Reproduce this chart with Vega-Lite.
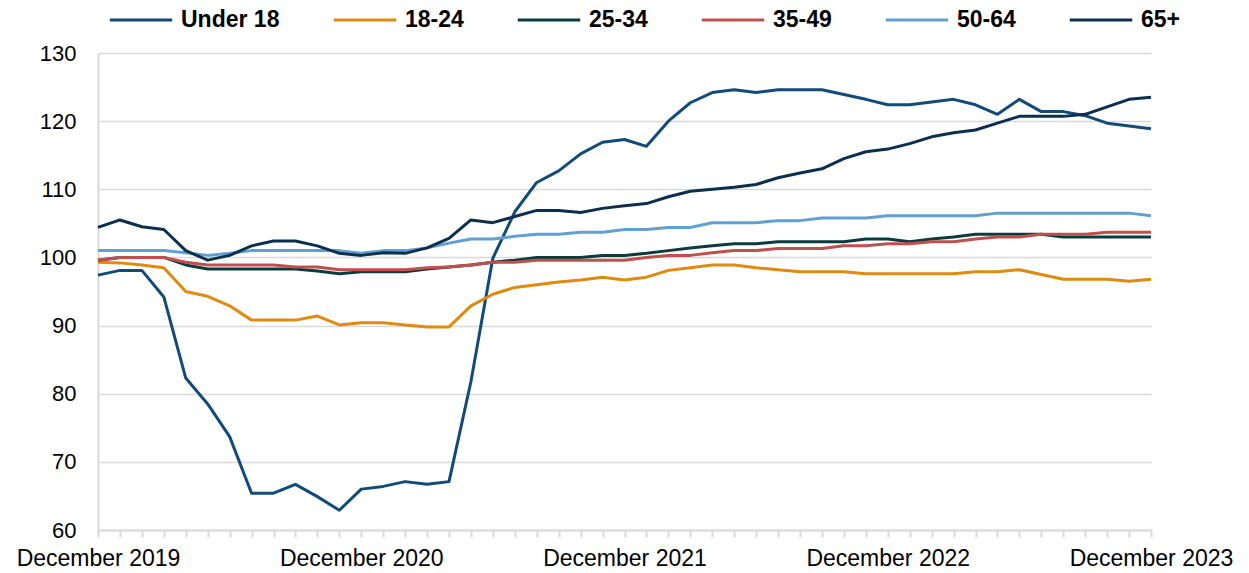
{
  "$schema": "https://vega.github.io/schema/vega-lite/v6.json",
  "width": 1053,
  "height": 477,
  "autosize": {"type": "none"},
  "padding": {"left": 98, "top": 53, "right": 98, "bottom": 43},
  "background": "white",
  "config": {
    "view": {"stroke": null},
    "font": "Liberation Sans"
  },
  "data": {
    "values": [
      {"month": "December 2019", "Under 18": 97.4, "18-24": 99.3, "25-34": 99.6, "35-49": 99.6, "50-64": 101.0, "65+": 104.4},
      {"month": "January 2020", "Under 18": 98.1, "18-24": 99.2, "25-34": 100.0, "35-49": 100.0, "50-64": 101.0, "65+": 105.5},
      {"month": "February 2020", "Under 18": 98.1, "18-24": 98.9, "25-34": 100.0, "35-49": 100.0, "50-64": 101.0, "65+": 104.5},
      {"month": "March 2020", "Under 18": 94.2, "18-24": 98.5, "25-34": 100.0, "35-49": 100.0, "50-64": 101.0, "65+": 104.1},
      {"month": "April 2020", "Under 18": 82.3, "18-24": 95.0, "25-34": 98.9, "35-49": 99.3, "50-64": 100.7, "65+": 101.0},
      {"month": "May 2020", "Under 18": 78.5, "18-24": 94.3, "25-34": 98.3, "35-49": 98.9, "50-64": 100.3, "65+": 99.6},
      {"month": "June 2020", "Under 18": 73.7, "18-24": 92.9, "25-34": 98.3, "35-49": 98.9, "50-64": 100.6, "65+": 100.3},
      {"month": "July 2020", "Under 18": 65.4, "18-24": 90.8, "25-34": 98.3, "35-49": 98.9, "50-64": 101.0, "65+": 101.7},
      {"month": "August 2020", "Under 18": 65.4, "18-24": 90.8, "25-34": 98.3, "35-49": 98.9, "50-64": 101.0, "65+": 102.4},
      {"month": "September 2020", "Under 18": 66.7, "18-24": 90.8, "25-34": 98.3, "35-49": 98.6, "50-64": 101.0, "65+": 102.4},
      {"month": "October 2020", "Under 18": 64.9, "18-24": 91.4, "25-34": 98.0, "35-49": 98.6, "50-64": 101.0, "65+": 101.7},
      {"month": "November 2020", "Under 18": 62.9, "18-24": 90.1, "25-34": 97.6, "35-49": 98.2, "50-64": 101.0, "65+": 100.6},
      {"month": "December 2020", "Under 18": 66.0, "18-24": 90.4, "25-34": 97.9, "35-49": 98.2, "50-64": 100.6, "65+": 100.3},
      {"month": "January 2021", "Under 18": 66.4, "18-24": 90.4, "25-34": 97.9, "35-49": 98.2, "50-64": 101.0, "65+": 100.7},
      {"month": "February 2021", "Under 18": 67.1, "18-24": 90.1, "25-34": 97.9, "35-49": 98.2, "50-64": 101.0, "65+": 100.6},
      {"month": "March 2021", "Under 18": 66.7, "18-24": 89.8, "25-34": 98.3, "35-49": 98.5, "50-64": 101.4, "65+": 101.4},
      {"month": "April 2021", "Under 18": 67.1, "18-24": 89.8, "25-34": 98.6, "35-49": 98.6, "50-64": 102.1, "65+": 102.8},
      {"month": "May 2021", "Under 18": 81.8, "18-24": 92.9, "25-34": 98.9, "35-49": 98.9, "50-64": 102.7, "65+": 105.5},
      {"month": "June 2021", "Under 18": 99.9, "18-24": 94.6, "25-34": 99.3, "35-49": 99.3, "50-64": 102.7, "65+": 105.1},
      {"month": "July 2021", "Under 18": 106.7, "18-24": 95.6, "25-34": 99.6, "35-49": 99.3, "50-64": 103.1, "65+": 106.0},
      {"month": "August 2021", "Under 18": 111.0, "18-24": 96.0, "25-34": 100.0, "35-49": 99.6, "50-64": 103.4, "65+": 106.9},
      {"month": "September 2021", "Under 18": 112.7, "18-24": 96.4, "25-34": 100.0, "35-49": 99.6, "50-64": 103.4, "65+": 106.9},
      {"month": "October 2021", "Under 18": 115.2, "18-24": 96.7, "25-34": 100.0, "35-49": 99.6, "50-64": 103.7, "65+": 106.6},
      {"month": "November 2021", "Under 18": 116.9, "18-24": 97.1, "25-34": 100.3, "35-49": 99.6, "50-64": 103.7, "65+": 107.2},
      {"month": "December 2021", "Under 18": 117.3, "18-24": 96.7, "25-34": 100.3, "35-49": 99.6, "50-64": 104.1, "65+": 107.6},
      {"month": "January 2022", "Under 18": 116.3, "18-24": 97.1, "25-34": 100.6, "35-49": 100.0, "50-64": 104.1, "65+": 107.9},
      {"month": "February 2022", "Under 18": 120.0, "18-24": 98.1, "25-34": 101.0, "35-49": 100.3, "50-64": 104.4, "65+": 108.9},
      {"month": "March 2022", "Under 18": 122.7, "18-24": 98.5, "25-34": 101.4, "35-49": 100.3, "50-64": 104.4, "65+": 109.7},
      {"month": "April 2022", "Under 18": 124.2, "18-24": 98.9, "25-34": 101.7, "35-49": 100.7, "50-64": 105.1, "65+": 110.0},
      {"month": "May 2022", "Under 18": 124.6, "18-24": 98.9, "25-34": 102.0, "35-49": 101.0, "50-64": 105.1, "65+": 110.3},
      {"month": "June 2022", "Under 18": 124.2, "18-24": 98.5, "25-34": 102.0, "35-49": 101.0, "50-64": 105.1, "65+": 110.7},
      {"month": "July 2022", "Under 18": 124.6, "18-24": 98.2, "25-34": 102.3, "35-49": 101.3, "50-64": 105.4, "65+": 111.7},
      {"month": "August 2022", "Under 18": 124.6, "18-24": 97.9, "25-34": 102.3, "35-49": 101.3, "50-64": 105.4, "65+": 112.4},
      {"month": "September 2022", "Under 18": 124.6, "18-24": 97.9, "25-34": 102.3, "35-49": 101.3, "50-64": 105.8, "65+": 113.0},
      {"month": "October 2022", "Under 18": 123.9, "18-24": 97.9, "25-34": 102.3, "35-49": 101.7, "50-64": 105.8, "65+": 114.5},
      {"month": "November 2022", "Under 18": 123.2, "18-24": 97.6, "25-34": 102.7, "35-49": 101.7, "50-64": 105.8, "65+": 115.5},
      {"month": "December 2022", "Under 18": 122.4, "18-24": 97.6, "25-34": 102.7, "35-49": 102.0, "50-64": 106.1, "65+": 115.9},
      {"month": "January 2023", "Under 18": 122.4, "18-24": 97.6, "25-34": 102.3, "35-49": 102.0, "50-64": 106.1, "65+": 116.7},
      {"month": "February 2023", "Under 18": 122.8, "18-24": 97.6, "25-34": 102.7, "35-49": 102.3, "50-64": 106.1, "65+": 117.7},
      {"month": "March 2023", "Under 18": 123.2, "18-24": 97.6, "25-34": 103.0, "35-49": 102.3, "50-64": 106.1, "65+": 118.3},
      {"month": "April 2023", "Under 18": 122.4, "18-24": 97.9, "25-34": 103.4, "35-49": 102.7, "50-64": 106.1, "65+": 118.7},
      {"month": "May 2023", "Under 18": 121.0, "18-24": 97.9, "25-34": 103.4, "35-49": 103.0, "50-64": 106.5, "65+": 119.7},
      {"month": "June 2023", "Under 18": 123.2, "18-24": 98.2, "25-34": 103.4, "35-49": 103.0, "50-64": 106.5, "65+": 120.7},
      {"month": "July 2023", "Under 18": 121.4, "18-24": 97.5, "25-34": 103.4, "35-49": 103.4, "50-64": 106.5, "65+": 120.7},
      {"month": "August 2023", "Under 18": 121.4, "18-24": 96.8, "25-34": 103.0, "35-49": 103.4, "50-64": 106.5, "65+": 120.7},
      {"month": "September 2023", "Under 18": 120.8, "18-24": 96.8, "25-34": 103.0, "35-49": 103.4, "50-64": 106.5, "65+": 121.0},
      {"month": "October 2023", "Under 18": 119.7, "18-24": 96.8, "25-34": 103.0, "35-49": 103.7, "50-64": 106.5, "65+": 122.1},
      {"month": "November 2023", "Under 18": 119.3, "18-24": 96.5, "25-34": 103.0, "35-49": 103.7, "50-64": 106.5, "65+": 123.2},
      {"month": "December 2023", "Under 18": 118.9, "18-24": 96.8, "25-34": 103.0, "35-49": 103.7, "50-64": 106.1, "65+": 123.5}
    ]
  },
  "transform": [
    {"fold": ["Under 18", "18-24", "25-34", "35-49", "50-64", "65+"], "as": ["group", "value"]}
  ],
  "mark": {"type": "line", "strokeWidth": 3, "strokeJoin": "round"},
  "encoding": {
    "x": {
      "field": "month",
      "type": "ordinal",
      "sort": null,
      "scale": {"type": "point", "padding": 0},
      "axis": {
        "title": null,
        "labelAngle": 0,
        "labelExpr": "indexof(datum.label, 'December') == 0 ? datum.label : ''",
        "labelOverlap": false,
        "labelFontSize": 23,
        "labelColor": "#000000",
        "labelPadding": 10,
        "domainColor": "#d9d9d9",
        "domainWidth": 2,
        "ticks": true,
        "tickColor": "#d9d9d9",
        "tickWidth": 2,
        "tickSize": 7,
        "grid": false
      }
    },
    "y": {
      "field": "value",
      "type": "quantitative",
      "scale": {"domain": [60, 130], "nice": false, "zero": false},
      "axis": {
        "title": null,
        "values": [60, 70, 80, 90, 100, 110, 120, 130],
        "labelFontSize": 22,
        "labelColor": "#000000",
        "labelPadding": 22,
        "ticks": false,
        "domainColor": "#d9d9d9",
        "domainWidth": 2,
        "grid": true,
        "gridColor": "#d9d9d9",
        "gridWidth": 1.3
      }
    },
    "color": {
      "field": "group",
      "type": "nominal",
      "sort": ["Under 18", "18-24", "25-34", "35-49", "50-64", "65+"],
      "scale": {
        "domain": ["Under 18", "18-24", "25-34", "35-49", "50-64", "65+"],
        "range": ["#124a7a", "#e08a0f", "#0a3c3e", "#c0504d", "#62a0d3", "#0c2f50"]
      },
      "legend": {
        "title": null,
        "orient": "none",
        "legendX": 10,
        "legendY": -66,
        "direction": "horizontal",
        "gridAlign": "each",
        "symbolType": "stroke",
        "symbolSize": 3900,
        "symbolStrokeWidth": 3,
        "labelFont": "Liberation Sans",
        "labelFontWeight": "bold",
        "labelFontSize": 23,
        "labelColor": "#000000",
        "labelOffset": 7,
        "columnPadding": 47
      }
    }
  }
}
